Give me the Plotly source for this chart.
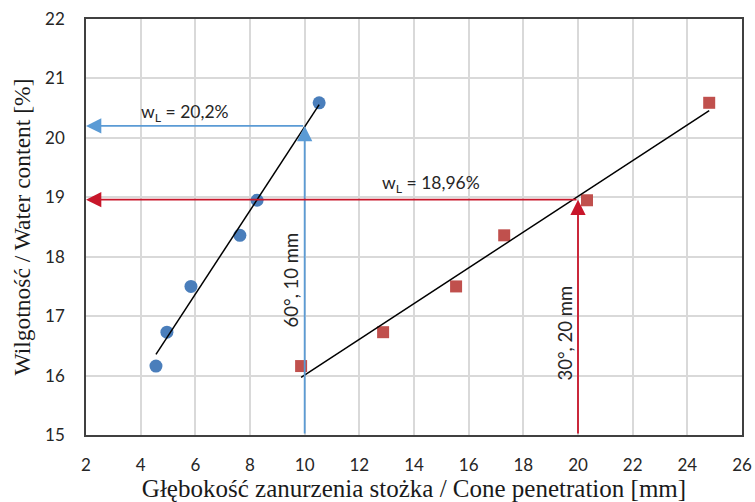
import numpy as np
import plotly.graph_objects as go

# ---- data ----
blue_x = [4.56, 4.96, 5.84, 7.63, 8.26, 10.53]      # 60°, 10 mm cone
blue_y = [16.16, 16.73, 17.50, 18.36, 18.95, 20.59]
red_x = [9.87, 12.87, 15.54, 17.30, 20.33, 24.80]   # 30°, 20 mm cone
red_y = [16.16, 16.73, 17.50, 18.36, 18.95, 20.59]

blue_depth = 10     # mm
red_depth = 20      # mm
blue_wl = 20.2      # %
red_wl = 18.96      # %

x_ticks = [2, 4, 6, 8, 10, 12, 14, 16, 18, 20, 22, 24, 26]
y_ticks = [15, 16, 17, 18, 19, 20, 21, 22]

BLUE_M = "#4A7EBB"
RED_M = "#C0504D"
BLUE_L = "#5B9BD5"
RED_L = "#C8162A"
TICK_FONT = dict(family="Lato, 'Open Sans', sans-serif", size=17, color="#262626")
SERIF = "'Liberation Serif', 'Times New Roman', serif"

fig = go.Figure()

fig.add_trace(go.Scatter(x=blue_x, y=blue_y, mode="markers",
                         marker=dict(symbol="circle", size=13, color=BLUE_M),
                         showlegend=False, hoverinfo="skip"))
fig.add_trace(go.Scatter(x=red_x, y=red_y, mode="markers",
                         marker=dict(symbol="square", size=12, color=RED_M),
                         showlegend=False, hoverinfo="skip"))

# linear trend lines (least squares fit of each series)
for xs, ys in ((blue_x, blue_y), (red_x, red_y)):
    k, b = np.polyfit(xs, ys, 1)
    xe = [min(xs), max(xs)]
    fig.add_trace(go.Scatter(x=xe, y=[k * v + b for v in xe], mode="lines",
                             line=dict(color="black", width=1.5),
                             showlegend=False, hoverinfo="skip"))

x0, y0 = x_ticks[0], y_ticks[0]
arrows = [
    (blue_depth, blue_wl, blue_depth, y0, BLUE_L),
    (x0, blue_wl, blue_depth, blue_wl, BLUE_L),
    (red_depth, red_wl, red_depth, y0, RED_L),
    (x0, red_wl, red_depth, red_wl, RED_L),
]
for (hx, hy, tx, ty, c) in arrows:
    fig.add_annotation(x=hx, y=hy, ax=tx, ay=ty, xref="x", yref="y",
                       axref="x", ayref="y", text="", showarrow=True,
                       arrowhead=2, arrowsize=1.7, arrowwidth=1.8,
                       arrowcolor=c)

LBL = dict(family="Lato, 'Open Sans', sans-serif", size=17.5, color="#262626")
LBLV = dict(family="Lato, 'Open Sans', sans-serif", size=18.5, color="#262626")
fig.add_annotation(x=5.62, y=20.42, xref="x", yref="y",
                   text="w<sub>L</sub> = 20,2%", showarrow=False, font=LBL)
fig.add_annotation(x=14.62, y=19.22, xref="x", yref="y",
                   text="w<sub>L</sub> = 18,96%", showarrow=False, font=LBL)
fig.add_annotation(x=9.5, y=17.6, xref="x", yref="y", textangle=-90,
                   text="60°, 10 mm", showarrow=False, font=LBLV)
fig.add_annotation(x=19.53, y=16.71, xref="x", yref="y", textangle=-90,
                   text="30°, 20 mm", showarrow=False, font=LBLV)

axis_common = dict(showgrid=True, gridcolor="#D9D9D9", gridwidth=1.5,
                   showline=True, mirror=True, linecolor="#404040",
                   linewidth=1.5, zeroline=False, ticks="",
                   tickfont=TICK_FONT)

fig.update_xaxes(range=[x_ticks[0], x_ticks[-1]], tickvals=x_ticks,
                 ticklabelstandoff=14,
                 title=dict(text="Głębokość zanurzenia stożka / Cone penetration [mm]",
                            font=dict(family=SERIF, size=25, color="#1a1a1a"),
                            standoff=0),
                 **axis_common)
fig.update_yaxes(range=[y_ticks[0], y_ticks[-1]], tickvals=y_ticks,
                 ticklabelstandoff=16,
                 title=dict(text="Wilgotność / Water content [%]",
                            font=dict(family=SERIF, size=23.5, color="#1a1a1a"),
                            standoff=8),
                 **axis_common)

fig.update_layout(width=755, height=502,
                  margin=dict(l=86, r=13, t=19, b=67, autoexpand=False),
                  paper_bgcolor="white", plot_bgcolor="white",
                  showlegend=False)

fig.write_html("out.html")
